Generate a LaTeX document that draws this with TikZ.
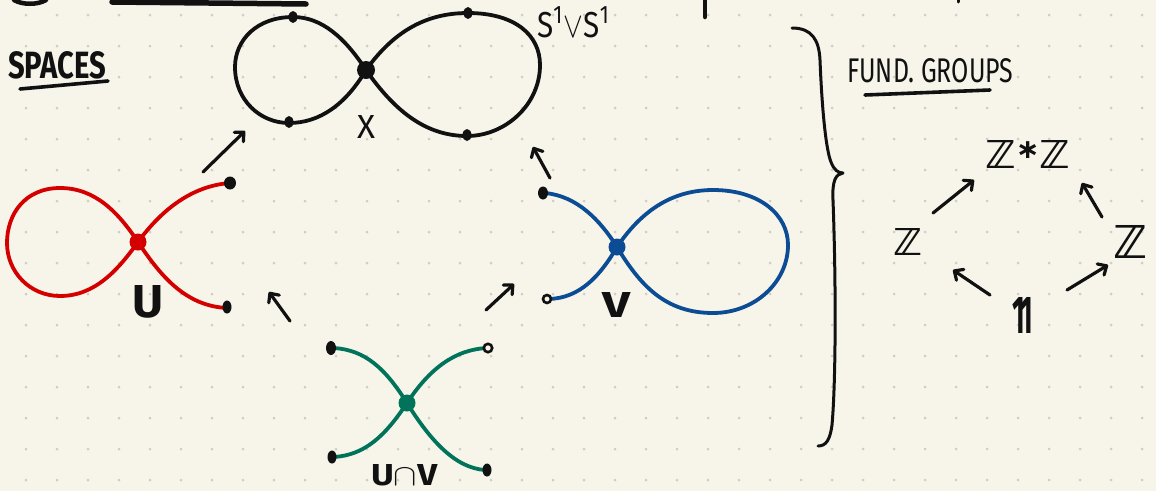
\documentclass[tikz,border=0pt]{standalone}
\usepackage{fontspec}
\setmainfont{Fira Sans}
\newfontfamily\dvs{DejaVu Sans}
\usepackage{amssymb}
\usepackage{graphicx}
\usetikzlibrary{arrows.meta}
\definecolor{paper}{HTML}{F7F5EA}
\definecolor{gridc}{HTML}{CFCEC6}
\definecolor{ured}{HTML}{D40000}
\definecolor{vblue}{HTML}{0B4C94}
\definecolor{igreen}{HTML}{00735A}
\definecolor{ink}{HTML}{111111}
\begin{document}
\begin{tikzpicture}[x=1pt,y=-1pt,
  wire/.style={line width=3.8pt, line cap=round},
  handarrow/.style={draw=ink, line width=3.2pt, line cap=round,
     -{Straight Barb[length=7pt,width=13pt,round]}},
  inkline/.style={draw=ink, line width=3pt, line cap=round},
  lbl/.style={inner sep=0pt, anchor=base west, text=ink, font=\bfseries},
  enddot/.style={fill=ink, draw=none},
  opendot/.style={draw=ink, fill=paper, line width=2.6pt}]
\useasboundingbox (0,0) rectangle (1156,491);
\fill[paper] (0,0) rectangle (1156,491);
\foreach \i in {0,...,36}{\foreach \j in {0,...,15}{
  \fill[gridc] ({26+31*\i},{15+31*\j}) circle (1.5);}}

% cut-off marks at top
\draw[inkline, line width=4.5pt] (14,0) .. controls (22,5) and (38,5) .. (46,0);
\draw[inkline, line width=5.5pt] (112,2) -- (306,4);
\draw[inkline, line width=4.5pt] (705,0) -- (705,17);
\draw[inkline, line width=3pt] (958,0) -- (958,2);

% headings
\node[lbl] (spaces) at (8,78) {\resizebox{98pt}{27pt}{SPACES}};
\draw[inkline, line width=3.6pt] (20,89) -- (108,81);
\node[lbl, font=\mdseries] (fund) at (847,82) {\resizebox{166pt}{24pt}{FUND. GROUPS}};
\draw[inkline, line width=3.6pt] (865,95) -- (990,90);

% X = S1 v S1
\coordinate (xc) at (366,70);
\draw[wire, ink] (xc) .. controls (345,38) and (322,17) .. (293,17)
   .. controls (257,17) and (235,40) .. (235,67)
   .. controls (235,100) and (260,123) .. (289,123)
   .. controls (320,123) and (346,104) .. (xc);
\draw[wire, ink] (xc) .. controls (396,28) and (430,13) .. (468,13)
   .. controls (515,13) and (540,35) .. (540,65)
   .. controls (540,105) and (505,136) .. (467,136)
   .. controls (425,136) and (394,110) .. (xc);
\fill[ink] (xc) circle (9);
\fill[enddot] (293,17) ellipse (4.5 and 6);
\fill[enddot] (289,122) ellipse (4.5 and 6);
\fill[enddot] (468,13) ellipse (4.5 and 6);
\fill[enddot] (467,135) ellipse (4.5 and 6);
\node[lbl, font=\mdseries] (xl) at (357,138) {\resizebox{18pt}{23pt}{X}};
\node[lbl, font=\mdseries] (wedge) at (537,37) {\resizebox{73pt}{30pt}{S\textsuperscript{1}$\vee$S\textsuperscript{1}}};

% U (red)
\coordinate (uc) at (138,242);
\draw[wire, ured] (uc) .. controls (118,212) and (95,188) .. (60,188)
   .. controls (25,188) and (7,214) .. (7,243)
   .. controls (7,272) and (30,296) .. (60,296)
   .. controls (95,296) and (118,270) .. (uc);
\draw[wire, ured] (uc) .. controls (160,212) and (190,186) .. (230,183);
\draw[wire, ured] (uc) .. controls (160,275) and (185,306) .. (227,308);
\fill[ured] (uc) circle (8.5);
\fill[enddot] (230,183) ellipse (6 and 6.5);
\fill[enddot] (227,307) ellipse (4.5 and 6.5);
\node[lbl] (ul) at (132,317) {\resizebox{31pt}{32pt}{U}};

% V (blue)
\coordinate (vc) at (617,247);
\draw[wire, vblue] (vc) .. controls (640,213) and (670,190) .. (713,190)
   .. controls (760,190) and (788,215) .. (788,245)
   .. controls (788,282) and (755,313) .. (713,313)
   .. controls (665,313) and (640,285) .. (vc);
\draw[wire, vblue] (vc) .. controls (600,220) and (577,196) .. (545,193);
\draw[wire, vblue] (vc) .. controls (600,276) and (580,298) .. (549,299);
\fill[vblue] (vc) circle (8.5);
\fill[enddot] (543,193) ellipse (5 and 6.5);
\draw[opendot] (547,299) circle (4);
\node[lbl] (vl) at (602,317) {\resizebox{28pt}{25pt}{V}};

% U cap V (green)
\coordinate (gc) at (407,403);
\draw[wire, igreen] (gc) .. controls (385,368) and (365,350) .. (334,348);
\draw[wire, igreen] (gc) .. controls (430,368) and (455,350) .. (486,348);
\draw[wire, igreen] (gc) .. controls (385,436) and (365,455) .. (334,457);
\draw[wire, igreen] (gc) .. controls (430,440) and (455,468) .. (485,470);
\fill[igreen] (gc) circle (8.5);
\fill[enddot] (331,348) ellipse (5 and 7);
\draw[opendot] (488,348) circle (4.2);
\fill[enddot] (332,457) ellipse (4.5 and 6.5);
\fill[enddot] (487,470) ellipse (4.5 and 6.5);
\node[lbl] (uvl) at (371,485) {\resizebox{66pt}{21pt}{U$\cap$V}};

% inclusion arrows
\coordinate (a1s) at (203,172); \coordinate (a1e) at (245,131);
\coordinate (a2s) at (550,178); \coordinate (a2e) at (533,147);
\coordinate (a3s) at (290,321); \coordinate (a3e) at (269,292);
\coordinate (a4s) at (486,310); \coordinate (a4e) at (514,284);
\draw[handarrow] (a1s) -- (a1e);
\draw[handarrow] (a2s) -- (a2e);
\draw[handarrow] (a3s) -- (a3e);
\draw[handarrow] (a4s) -- (a4e);

% brace
\coordinate (b0) at (792,28);
\coordinate (bt) at (843,173);
\coordinate (b1) at (818,446);
\draw[ink, line width=3pt, line cap=round, line join=round]
  (b0) .. controls (812,28) and (819,40) .. (820,60)
  .. controls (822,110) and (826,150) .. (831,162)
  .. controls (834,170) and (838,173) .. (bt)
  .. controls (836,174) and (832,180) .. (833,200)
  .. controls (836,280) and (836,380) .. (832,425)
  .. controls (830,440) and (826,446) .. (b1);

% fundamental groups
\node[lbl] (zz) at (985,168) {\resizebox{85pt}{28pt}{\dvs\bfseries ℤ\raisebox{0.25em}{\scriptsize ∗}ℤ}};
\node[lbl] (zl) at (893,255) {\resizebox{29pt}{27pt}{\dvs\bfseries ℤ}};
\node[lbl] (zr) at (1113,258) {\resizebox{34pt}{33pt}{\dvs\bfseries ℤ}};
\node[lbl] (one) at (1012,333) {\resizebox{21pt}{36pt}{\bfseries 1\kern-0.16em1}};
\coordinate (g1s) at (933,213); \coordinate (g1e) at (974,180);
\coordinate (g2s) at (1102,217); \coordinate (g2e) at (1082,183);
\coordinate (g3s) at (990,295); \coordinate (g3e) at (953,270);
\coordinate (g4s) at (1067,290); \coordinate (g4e) at (1108,265);
\draw[handarrow] (g1s) -- (g1e);
\draw[handarrow] (g2s) -- (g2e);
\draw[handarrow] (g3s) -- (g3e);
\draw[handarrow] (g4s) -- (g4e);
\end{tikzpicture}
\end{document}
